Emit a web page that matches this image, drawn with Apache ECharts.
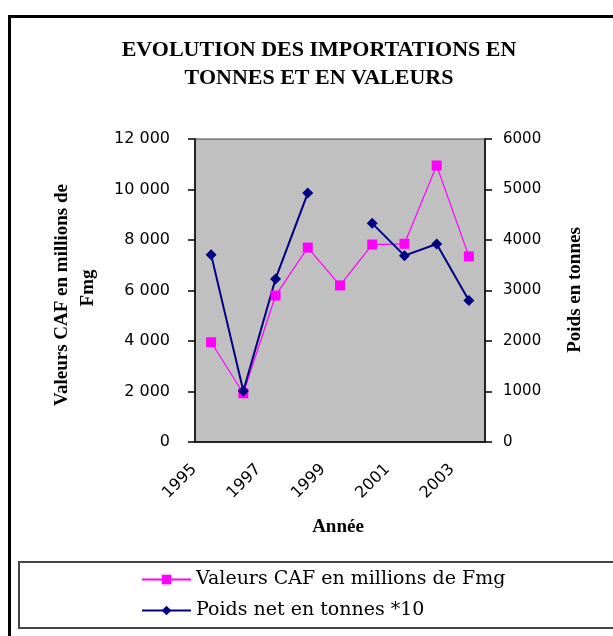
<!DOCTYPE html>
<html>
<head>
<meta charset="utf-8">
<script src="https://cdn.jsdelivr.net/npm/echarts@6/dist/echarts.min.js"></script>
<style>html,body{margin:0;padding:0;background:#fff;}#c{width:613px;height:636px;}</style>
</head>
<body>
<div id="c"></div>
<script>
const years = ['1995','1996','1997','1998','1999','2000','2001','2002','2003'];
const valeursCAF = [3950, 1930, 5800, 7700, 6200, 7820, 7850, 10950, 7350];
const poidsNet = [3710, 1010, 3230, 4930, null, 4330, 3690, 3920, 2800];
const leftTicks = {min: 0, max: 12000, interval: 2000};
const rightTicks = {min: 0, max: 6000, interval: 1000};
const titleText = 'EVOLUTION DES IMPORTATIONS EN\nTONNES ET EN VALEURS';
const seriesNames = ['Valeurs CAF en millions de Fmg', 'Poids net en tonnes *10'];

const chart = echarts.init(document.getElementById('c'), null, {renderer: 'canvas'});
const serifB = {fontFamily: 'Liberation Serif', fontWeight: 'bold', fontSize: 19, fill: '#000'};
const sans = 'DejaVu Sans';

chart.setOption({
  animation: false,
  backgroundColor: '#fff',
  grid: {left: 195, top: 139, width: 290, height: 303, show: true, backgroundColor: '#c0c0c0', borderColor: '#444', borderWidth: 1},
  xAxis: {
    type: 'category', data: years, boundaryGap: true,
    axisLine: {lineStyle: {color: '#000', width: 1.5}},
    axisTick: {interval: 0, length: 6, lineStyle: {color: '#000', width: 1.5}},
    axisLabel: {interval: 1, rotate: 45, fontFamily: sans, fontSize: 16, color: '#000', margin: 8, padding: [0, 24, 0, 0]}
  },
  yAxis: [{
    type: 'value', min: leftTicks.min, max: leftTicks.max, interval: leftTicks.interval, position: 'left',
    splitLine: {show: false},
    axisLine: {show: true, lineStyle: {color: '#000', width: 1.5}},
    axisTick: {show: true, length: 7, lineStyle: {color: '#000', width: 1.5}},
    axisLabel: {fontFamily: sans, fontSize: 16, color: '#000', margin: 25,
      formatter: v => String(v).replace(/\B(?=(\d{3})+(?!\d))/g, ' ')}
  }, {
    type: 'value', min: rightTicks.min, max: rightTicks.max, interval: rightTicks.interval, position: 'right',
    splitLine: {show: false},
    axisLine: {show: true, lineStyle: {color: '#000', width: 1.5}},
    axisTick: {show: true, length: 7, lineStyle: {color: '#000', width: 1.5}},
    axisLabel: {fontFamily: sans, fontSize: 15, color: '#000', margin: 18, formatter: v => String(v)}
  }],
  legend: {
    orient: 'vertical', left: 141, top: 570, padding: 0, itemWidth: 49, itemHeight: 12, itemGap: 12,
    textStyle: {fontFamily: 'DejaVu Serif', fontSize: 19, color: '#000'},
    data: seriesNames
  },
  series: [{
    name: seriesNames[0], type: 'line', yAxisIndex: 0, data: valeursCAF,
    symbol: 'rect', symbolSize: 10,
    lineStyle: {color: '#ff00ff', width: 1.2}, itemStyle: {color: '#ff00ff'}
  }, {
    name: seriesNames[1], type: 'line', yAxisIndex: 1, data: poidsNet, connectNulls: false,
    symbol: 'diamond', symbolSize: 11,
    lineStyle: {color: '#000080', width: 2}, itemStyle: {color: '#000080'}
  }],
  graphic: [
    {type: 'rect', shape: {x: 9.5, y: 16.5, width: 640, height: 660}, style: {fill: 'none', stroke: '#000', lineWidth: 3}, z: 100},
    {type: 'rect', shape: {x: 19, y: 562, width: 640, height: 66}, style: {fill: 'none', stroke: '#444', lineWidth: 2}, z: 100},
    {type: 'text', x: 319, y: 64, style: {text: titleText, align: 'center', verticalAlign: 'middle', fontFamily: 'Liberation Serif', fontWeight: 'bold', fontSize: 22, lineHeight: 28, fill: '#000'}},
    {type: 'text', x: 62, y: 295, rotation: Math.PI / 2, style: Object.assign({text: 'Valeurs CAF en millions de', align: 'center', verticalAlign: 'middle'}, serifB)},
    {type: 'text', x: 88, y: 288, rotation: Math.PI / 2, style: Object.assign({text: 'Fmg', align: 'center', verticalAlign: 'middle'}, serifB)},
    {type: 'text', x: 575, y: 290, rotation: Math.PI / 2, style: Object.assign({text: 'Poids en tonnes', align: 'center', verticalAlign: 'middle'}, serifB)},
    {type: 'text', x: 338, y: 527, style: Object.assign({text: 'Année', align: 'center', verticalAlign: 'middle'}, serifB)}
  ]
});
</script>
</body>
</html>
